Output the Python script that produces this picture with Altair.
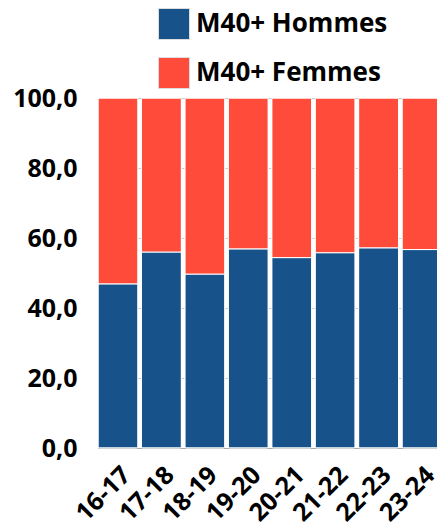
import altair as alt
import pandas as pd

saisons = ["16-17", "17-18", "18-19", "19-20", "20-21", "21-22", "22-23", "23-24"]
hommes = [46.9, 56.0, 49.7, 56.9, 54.4, 55.8, 57.2, 56.7]
femmes = [53.1, 44.0, 50.3, 43.1, 45.6, 44.2, 42.8, 43.3]
series = ["M40+ Hommes", "M40+ Femmes"]
colors = ["#17538a", "#fe4b3a"]

rows = []
for s, h, f in zip(saisons, hommes, femmes):
    rows.append({"saison": s, "serie": series[0], "valeur": h, "o": 0})
    rows.append({"saison": s, "serie": series[1], "valeur": f, "o": 1})
df = pd.DataFrame(rows)

FONT = "Open Sans"

chart = alt.Chart(df).mark_bar(
    stroke="white", strokeWidth=1, cornerRadius=1.5
).encode(
    x=alt.X("saison:N", sort=saisons, title=None,
            scale=alt.Scale(range=[0, 344], paddingInner=0.08, paddingOuter=0),
            axis=alt.Axis(labelAngle=-45, labelFont=FONT, labelFontWeight="bold",
                          labelFontSize=25, labelColor="black", ticks=False,
                          domainColor="#aaaaaa", labelPadding=14, grid=False)),
    y=alt.Y("valeur:Q", stack="zero", title=None,
            scale=alt.Scale(domain=[0, 100], nice=False),
            axis=alt.Axis(values=[0, 20, 40, 60, 80, 100],
                          labelExpr="replace(format(datum.value, '.1f'), '.', ',')",
                          labelFont=FONT, labelFontWeight="bold", labelFontSize=25,
                          labelColor="black", ticks=False, domain=False,
                          labelPadding=21, gridColor="#cccccc")),
    color=alt.Color("serie:N", scale=alt.Scale(domain=series, range=colors),
                    legend=alt.Legend(title=None, orient="none", legendX=60, legendY=-90,
                                      symbolType="square", symbolSize=961,
                                      symbolStrokeColor="#dddddd", symbolStrokeWidth=1,
                                      labelFont=FONT, labelFontWeight="bold",
                                      labelFontSize=26, labelColor="black", labelLimit=0,
                                      labelOffset=6, rowPadding=13, padding=0)),
    order=alt.Order("o:Q", sort="ascending"),
).properties(
    width=339, height=350,
    autosize=alt.AutoSizeParams(type="none"),
    padding={"left": 90, "top": 90, "right": 0, "bottom": 80},
).configure_view(stroke=None)

chart.save("out.html", embed_options={"renderer": "svg", "actions": False})
